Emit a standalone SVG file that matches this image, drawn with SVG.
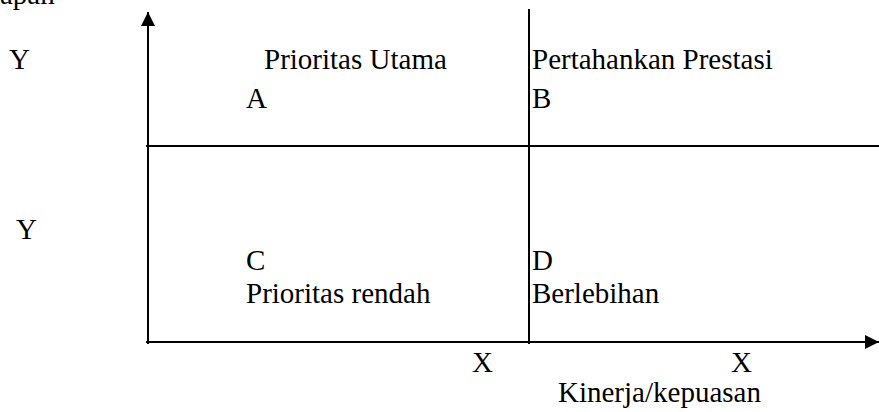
<svg xmlns="http://www.w3.org/2000/svg" width="879" height="412" viewBox="0 0 879 412">
<defs>
<style>
text{font-family:"Liberation Serif","Times New Roman",serif;font-size:29px;fill:#000}
.ax{stroke:#000;stroke-width:2;fill:none}
</style>
<marker id="ah" markerWidth="14" markerHeight="14" refX="14" refY="7" orient="auto" markerUnits="userSpaceOnUse">
<path d="M0,0 L14,7 L0,14 Z" fill="#000"/>
</marker>
</defs>
<rect width="879" height="412" fill="#fff"/>
<g id="connectors">
<line class="ax" x1="148" y1="344" x2="148" y2="12" marker-end="url(#ah)"/>
<line class="ax" x1="146" y1="342" x2="879" y2="342" marker-end="url(#ah)"/>
<line class="ax" x1="146" y1="146" x2="879" y2="146"/>
<line class="ax" x1="529" y1="9" x2="529" y2="344"/>
</g>
<g id="label-harapan"><text x="0" y="4">apan</text></g>
<g id="label-y1"><text x="9" y="69">Y</text></g>
<g id="label-y2"><text x="16" y="239">Y</text></g>
<g id="quad-a"><text x="264" y="69">Prioritas Utama</text><text x="246" y="108">A</text></g>
<g id="quad-b"><text x="532" y="69">Pertahankan Prestasi</text><text x="532" y="108">B</text></g>
<g id="quad-c"><text x="246" y="270">C</text><text x="246" y="303">Prioritas rendah</text></g>
<g id="quad-d"><text x="532" y="270">D</text><text x="532" y="303">Berlebihan</text></g>
<g id="label-x1"><text x="472" y="372">X</text></g>
<g id="label-x2"><text x="731" y="372">X</text></g>
<g id="label-kinerja"><text x="558" y="402">Kinerja/kepuasan</text></g>
</svg>
